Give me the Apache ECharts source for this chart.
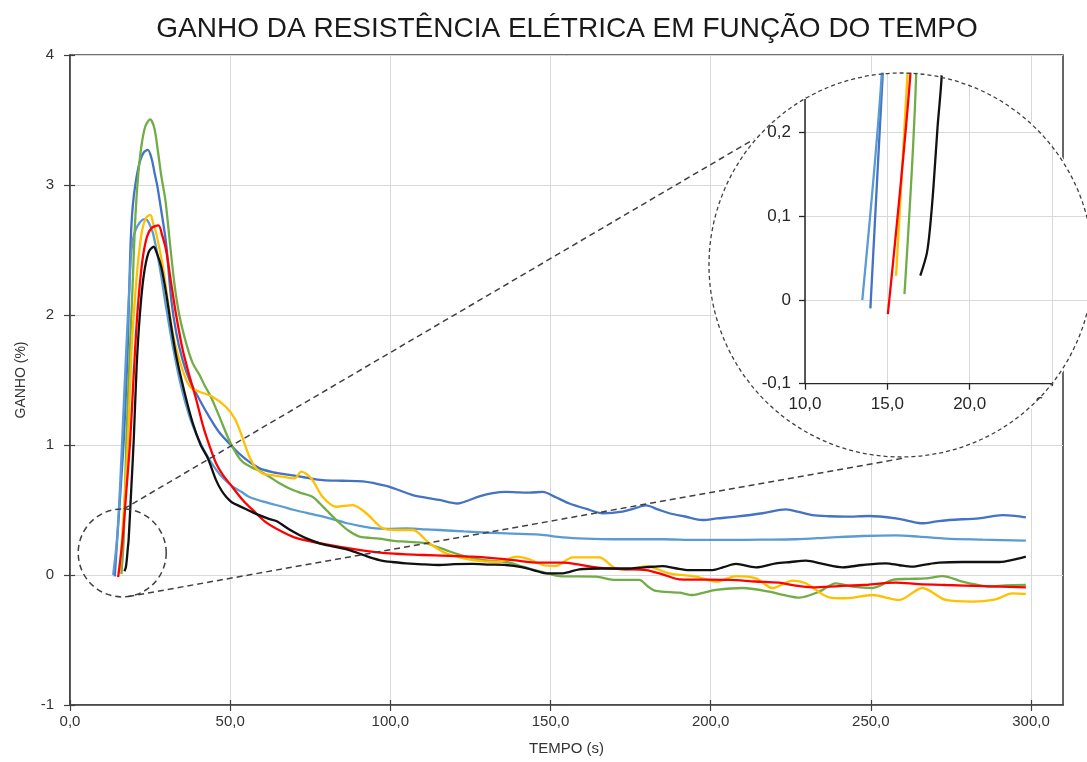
<!DOCTYPE html>
<html>
<head>
<meta charset="utf-8">
<script src="https://cdn.jsdelivr.net/npm/echarts@6/dist/echarts.min.js"></script>
<style>
  html, body { margin: 0; padding: 0; width: 1087px; height: 762px; overflow: hidden; background: #ffffff; }
  #grafico { position: absolute; left: 0; top: 0; width: 1087px; height: 762px; }
  #lupa { position: absolute; left: 708px; top: 72px; width: 386px; height: 386px;
          clip-path: circle(194px at 193px 193px); }
</style>
</head>
<body>
<div id="grafico"></div>
<div id="lupa"></div>
<script>
// Ganho (%) x tempo (s) de seis amostras
const serieAzul = [[13.97,-0.01],[14.72,0.27],[15.8,0.66],[16.8,1.04],[17.5,1.42],[18.0,1.73],[18.5,2.2],[19.0,2.6],[19.6,2.84],[20.5,3.02],[21.8,3.18],[23.0,3.25],[24.3,3.27],[25.5,3.2],[26.5,3.08],[27.2,3.0],[28.0,2.88],[30.0,2.55],[31.6,2.12],[33.2,1.86],[35.2,1.65],[37.3,1.5],[40.4,1.35],[43.6,1.21],[46.5,1.1],[49.8,1.01],[53.0,0.93],[56.0,0.87],[59.2,0.82],[63.5,0.79],[68.5,0.77],[73.5,0.75],[78.9,0.73],[85,0.725],[91.4,0.72],[98.7,0.685],[103,0.65],[107,0.615],[111,0.595],[115.3,0.577],[121,0.55],[124.5,0.575],[127.8,0.605],[132,0.63],[136.1,0.64],[140,0.635],[143.4,0.633],[147.6,0.64],[151.5,0.6],[155.9,0.55],[161,0.51],[166.3,0.475],[172.5,0.487],[176,0.51],[179.8,0.535],[183.5,0.505],[187.1,0.475],[192,0.45],[197.5,0.423],[202,0.435],[207.9,0.449],[216.2,0.475],[223.5,0.505],[227.5,0.485],[231.8,0.46],[237,0.452],[242.2,0.449],[249.5,0.454],[257.8,0.436],[262,0.415],[266.1,0.398],[270,0.41],[274.4,0.423],[283.8,0.436],[291.1,0.46],[295,0.455],[298.4,0.444]];

const serieAzulClaro = [[13.48,0.0],[14.66,0.27],[15.5,0.62],[16.3,1.04],[17.5,1.7],[18.5,2.2],[19.2,2.5],[20.0,2.62],[21.2,2.69],[22.5,2.73],[23.6,2.74],[24.6,2.71],[25.9,2.63],[28.0,2.37],[30.0,2.06],[32.1,1.76],[34.7,1.45],[37.3,1.22],[40.0,1.05],[42.5,0.93],[45.6,0.81],[48,0.74],[50.8,0.68],[53.5,0.64],[56.0,0.6],[61,0.56],[66.4,0.525],[70,0.5],[74.8,0.472],[80.5,0.44],[86.2,0.40],[90,0.38],[94.5,0.36],[99,0.355],[104.9,0.358],[110,0.352],[115.3,0.346],[123,0.335],[130.9,0.325],[138,0.318],[146.5,0.31],[153.8,0.29],[161,0.28],[169.4,0.275],[185,0.275],[195,0.27],[205.8,0.27],[216,0.272],[226.6,0.275],[237,0.288],[247.4,0.30],[257.8,0.305],[265,0.295],[273.4,0.28],[285,0.272],[298.4,0.264]];

const serieVerde = [[16.04,0.007],[16.75,0.27],[17.6,1.04],[18.7,1.73],[19.5,2.2],[20.3,2.7],[21.2,3.05],[22.3,3.3],[23.5,3.45],[25.0,3.505],[26.3,3.44],[27.5,3.25],[28.5,3.07],[29.8,2.88],[31.0,2.6],[32.6,2.24],[34.2,1.99],[36.3,1.78],[38.3,1.63],[40.4,1.54],[42,1.46],[44,1.37],[46.6,1.22],[49.8,1.03],[52,0.93],[53.9,0.87],[56.5,0.83],[59.2,0.8],[62,0.76],[65.4,0.705],[68.5,0.665],[71.6,0.635],[75.8,0.6],[78,0.55],[80,0.5],[84.1,0.4],[87,0.34],[90.4,0.295],[96.6,0.28],[100.5,0.265],[104.9,0.256],[111.2,0.244],[114,0.22],[117.4,0.192],[121,0.16],[125.7,0.128],[131,0.11],[136.1,0.10],[140,0.075],[143.4,0.05],[148,0.02],[152.8,-0.008],[164.2,-0.013],[170.4,-0.038],[177.7,-0.038],[180.5,-0.09],[182.9,-0.123],[190.2,-0.136],[194.4,-0.154],[198,-0.135],[201.7,-0.115],[210,-0.10],[218.3,-0.128],[223,-0.155],[227.7,-0.174],[233.9,-0.128],[239.1,-0.064],[244.3,-0.09],[250.5,-0.10],[256.8,-0.038],[262,-0.03],[267.2,-0.026],[272.4,-0.008],[278.6,-0.051],[283,-0.075],[287,-0.09],[292,-0.08],[298.4,-0.077]];

const serieAmarela = [[15.53,0.029],[16.22,0.27],[17.2,0.65],[18.1,1.04],[19.2,1.73],[20.2,2.1],[21.2,2.4],[22.5,2.65],[23.8,2.75],[25.1,2.77],[26.0,2.7],[26.9,2.63],[29.0,2.37],[30.5,2.12],[32.1,1.86],[34.2,1.65],[36.3,1.5],[37.8,1.44],[40.4,1.41],[44.6,1.37],[48.8,1.29],[51.5,1.2],[53.5,1.08],[56.0,0.91],[58.1,0.82],[60.2,0.78],[62.3,0.77],[66.4,0.756],[70.1,0.744],[72.2,0.795],[75.3,0.744],[78.9,0.60],[83.1,0.525],[88.3,0.538],[92.5,0.475],[97.6,0.36],[101.8,0.346],[107,0.346],[112.2,0.244],[117.4,0.167],[125.7,0.115],[134,0.10],[139.3,0.141],[143.4,0.121],[147.6,0.077],[151.7,0.069],[156.9,0.136],[165.2,0.136],[170.4,0.051],[174.6,0.044],[179.8,0.069],[187.1,0.013],[195.4,-0.013],[201.7,-0.051],[207.9,-0.008],[214.1,-0.026],[219.3,-0.10],[225.5,-0.044],[229.7,-0.064],[237,-0.172],[242.2,-0.179],[250.5,-0.154],[258.8,-0.192],[266.1,-0.10],[273.4,-0.192],[281.7,-0.205],[289,-0.187],[294.2,-0.141],[298.4,-0.146]];

const serieVermelha = [[15.03,-0.017],[16.4,0.27],[17.6,0.65],[18.8,1.04],[19.8,1.5],[21.0,2.0],[22.5,2.4],[24.0,2.6],[25.5,2.67],[27.6,2.69],[28.8,2.61],[30.0,2.5],[31.6,2.24],[33.2,1.99],[35.2,1.73],[37.3,1.53],[39.4,1.35],[41.5,1.15],[43.6,0.99],[45.6,0.86],[47.7,0.77],[49.8,0.705],[53.9,0.577],[58.1,0.475],[61.2,0.405],[66.4,0.33],[70,0.29],[76.8,0.25],[87.2,0.205],[97.6,0.17],[104,0.16],[110.1,0.154],[118,0.147],[125.7,0.141],[132,0.13],[138.2,0.115],[146.5,0.095],[153.8,0.095],[159,0.08],[164.2,0.059],[172,0.045],[179.8,0.038],[185,0.005],[190.2,-0.033],[205.8,-0.038],[214,-0.05],[221.4,-0.059],[226,-0.08],[231.8,-0.095],[240,-0.085],[247.4,-0.077],[257.8,-0.059],[265,-0.07],[273.4,-0.077],[285,-0.085],[298.4,-0.095]];

const seriePreta = [[17.0,0.029],[17.4,0.056],[17.6,0.088],[17.8,0.135],[18.05,0.207],[18.3,0.268],[19.1,0.65],[19.9,1.04],[20.8,1.6],[21.8,2.0],[23.0,2.3],[24.5,2.48],[26.1,2.525],[27.2,2.47],[28.5,2.37],[30.0,2.17],[31.6,1.91],[33.2,1.68],[35.8,1.40],[38.3,1.17],[40.8,1.0],[43.0,0.9],[45.6,0.73],[47.3,0.65],[48.8,0.6],[50.5,0.56],[52.9,0.53],[55.5,0.5],[58.1,0.47],[62.3,0.43],[64.4,0.415],[68.5,0.35],[71.6,0.308],[74,0.28],[77.9,0.244],[82,0.22],[87.2,0.192],[92,0.15],[96.6,0.115],[100.5,0.1],[104.9,0.09],[110,0.082],[115.3,0.077],[120,0.083],[125.7,0.085],[131,0.08],[136.1,0.077],[141,0.06],[146.5,0.025],[148.6,0.013],[153.8,0.013],[159,0.044],[166,0.05],[174.6,0.05],[180,0.06],[185,0.069],[189,0.052],[193.3,0.038],[200.6,0.038],[204,0.06],[207.9,0.085],[214.1,0.059],[220.4,0.09],[225,0.1],[229.7,0.11],[235,0.085],[241.2,0.059],[247.4,0.077],[254.7,0.09],[259,0.075],[263,0.064],[267,0.08],[271.3,0.095],[278.6,0.10],[284,0.1],[290.2,0.10],[295,0.12],[298.4,0.141]];

// Marcas dos eixos
const ticksTempo = [0, 50, 100, 150, 200, 250, 300];
const ticksTempoLupa = [10, 15, 20, 25];
const ticksGanhoLupa = [-0.1, 0, 0.1, 0.2];

// Região ampliada (tempo, ganho) e extremos dos eixos da lupa
const focoLupa = [16.3, 0.17];
const eixoLupaX = [[10, -0.1], [25, -0.1]];
const eixoLupaY = [[10, -0.1], [10, 0.24]];

const series = [
  { nome: 'Azul', dados: serieAzul, cor: '#4472C4' },
  { nome: 'Azul claro', dados: serieAzulClaro, cor: '#5B9BD5' },
  { nome: 'Verde', dados: serieVerde, cor: '#70AD47' },
  { nome: 'Amarela', dados: serieAmarela, cor: '#FFC000' },
  { nome: 'Vermelha', dados: serieVermelha, cor: '#FF0000' },
  { nome: 'Preta', dados: seriePreta, cor: '#111111' }
];

const FONTE = '"Liberation Sans", Arial, sans-serif';
const virgula = (v, casas) => v.toFixed(casas).replace('.', ',');

function linhas(largura) {
  return series.map(s => ({
    name: s.nome,
    type: 'line',
    data: s.dados,
    showSymbol: false,
    smooth: 0.3,
    lineStyle: { color: s.cor, width: largura },
    itemStyle: { color: s.cor },
    emphasis: { disabled: true },
    animation: false
  }));
}

/* ---------- gráfico principal ---------- */
const grafico = echarts.init(document.getElementById('grafico'), null, { renderer: 'canvas' });
const eixoX = {
  type: 'value', min: 0, max: 310, interval: 50, position: 'bottom',
  axisLine: { show: true, onZero: false, lineStyle: { color: '#404040', width: 1.6 } },
  axisTick: { show: true, length: 6, customValues: ticksTempo, lineStyle: { color: '#404040', width: 1.2 } },
  axisLabel: { customValues: ticksTempo, formatter: v => virgula(v, 1), color: '#333333', fontSize: 15, fontFamily: FONTE, margin: 9 },
  splitLine: { show: true, lineStyle: { color: '#d9d9d9', width: 1 } },
  name: 'TEMPO (s)', nameLocation: 'middle', nameGap: 36,
  nameTextStyle: { color: '#333333', fontSize: 15, fontFamily: FONTE }
};
const eixoY = {
  type: 'value', min: -1, max: 4, interval: 1, position: 'left',
  axisLine: { show: true, onZero: false, lineStyle: { color: '#404040', width: 1.6 } },
  axisTick: { show: true, length: 6, lineStyle: { color: '#404040', width: 1.2 } },
  axisLabel: { formatter: v => String(v), color: '#333333', fontSize: 15, fontFamily: FONTE, margin: 16 },
  splitLine: { show: true, lineStyle: { color: '#d9d9d9', width: 1 } },
  name: 'GANHO (%)', nameLocation: 'middle', nameGap: 42,
  nameTextStyle: { color: '#333333', fontSize: 14, fontFamily: FONTE }
};

grafico.setOption({
  backgroundColor: '#ffffff',
  animation: false,
  title: {
    text: 'GANHO DA RESISTÊNCIA ELÉTRICA EM FUNÇÃO DO TEMPO',
    left: 562, top: 10, textAlign: 'center',
    textStyle: { color: '#1a1a1a', fontSize: 28, fontWeight: 'normal', fontFamily: FONTE }
  },
  grid: { left: 70, top: 55, width: 993, height: 650, show: true, borderColor: '#404040', borderWidth: 1.6, backgroundColor: 'transparent' },
  xAxis: [
    eixoX,
    { type: 'value', min: 0, max: 310, interval: 50, position: 'bottom',
      axisLine: { show: false, onZero: false }, axisLabel: { show: false }, splitLine: { show: false },
      axisTick: { show: true, inside: true, length: 5, customValues: ticksTempo, lineStyle: { color: '#404040', width: 1.2 } } }
  ],
  yAxis: [
    eixoY,
    { type: 'value', min: -1, max: 4, interval: 1, position: 'left',
      axisLine: { show: false, onZero: false }, axisLabel: { show: false }, splitLine: { show: false },
      axisTick: { show: true, inside: true, length: 5, lineStyle: { color: '#404040', width: 1.2 } } }
  ],
  series: linhas(2.3)
});

// círculo de foco e linhas de ligação até a lupa
const centroFoco = grafico.convertToPixel({ gridIndex: 0 }, focoLupa);
const raioFoco = 44;
const centroLupa = [708 + 193, 72 + 193];
const raioLupa = 193;
const pontoCirc = (c, r, graus) => [c[0] + r * Math.cos(graus * Math.PI / 180), c[1] + r * Math.sin(graus * Math.PI / 180)];
const iniSup = pontoCirc(centroFoco, raioFoco, -88);
const iniInf = pontoCirc(centroFoco, raioFoco, 82);
const fimSup = pontoCirc(centroLupa, raioLupa, 221);
const fimInf = pontoCirc(centroLupa, raioLupa, 89);
const tracejado = { stroke: '#404040', lineWidth: 1.5, lineDash: [6, 4], fill: null };

grafico.setOption({
  graphic: [
    { type: 'circle', shape: { cx: centroFoco[0], cy: centroFoco[1], r: raioFoco }, style: tracejado, z: 50, silent: true },
    { type: 'line', shape: { x1: iniSup[0], y1: iniSup[1], x2: fimSup[0], y2: fimSup[1] }, style: tracejado, z: 50, silent: true },
    { type: 'line', shape: { x1: iniInf[0], y1: iniInf[1], x2: fimInf[0], y2: fimInf[1] }, style: tracejado, z: 50, silent: true }
  ]
});

/* ---------- lupa ---------- */
const lupa = echarts.init(document.getElementById('lupa'), null, { renderer: 'canvas' });
const corEixoLupa = '#262626';
lupa.setOption({
  backgroundColor: '#ffffff',
  animation: false,
  grid: { left: 97, top: 2, width: 288.2, height: 309.7, show: false },
  xAxis: {
    type: 'value', min: 10, max: 27.5, interval: 5, position: 'bottom',
    axisLine: { show: false, onZero: false },
    axisTick: { show: true, length: 6, customValues: ticksTempoLupa, lineStyle: { color: corEixoLupa, width: 1.3 } },
    axisLabel: { customValues: ticksTempoLupa, formatter: v => virgula(v, 1), color: '#262626', fontSize: 17, fontFamily: FONTE, margin: 12 },
    splitLine: { show: true, lineStyle: { color: '#d9d9d9', width: 1 } }
  },
  yAxis: {
    type: 'value', min: -0.1, max: 0.27, interval: 0.1, position: 'left',
    axisLine: { show: false, onZero: false },
    axisTick: { show: true, length: 6, customValues: ticksGanhoLupa, lineStyle: { color: corEixoLupa, width: 1.3 } },
    axisLabel: { customValues: ticksGanhoLupa, formatter: v => (Math.abs(v) < 1e-9 ? '0' : virgula(v, 1)), color: '#262626', fontSize: 17, fontFamily: FONTE, margin: 14 },
    splitLine: { show: true, lineStyle: { color: '#d9d9d9', width: 1 } }
  },
  series: [
    { type: 'line', data: eixoLupaX, showSymbol: false, lineStyle: { color: corEixoLupa, width: 1.5 }, silent: true, z: 1 },
    { type: 'line', data: eixoLupaY, showSymbol: false, lineStyle: { color: corEixoLupa, width: 1.5 }, silent: true, z: 1 }
  ].concat(linhas(2.3)),
  graphic: [
    { type: 'circle', shape: { cx: 193, cy: 193, r: 192 }, style: { stroke: '#404040', lineWidth: 1.3, lineDash: [4, 3], fill: null }, z: 100, silent: true }
  ]
});
</script>
</body>
</html>
